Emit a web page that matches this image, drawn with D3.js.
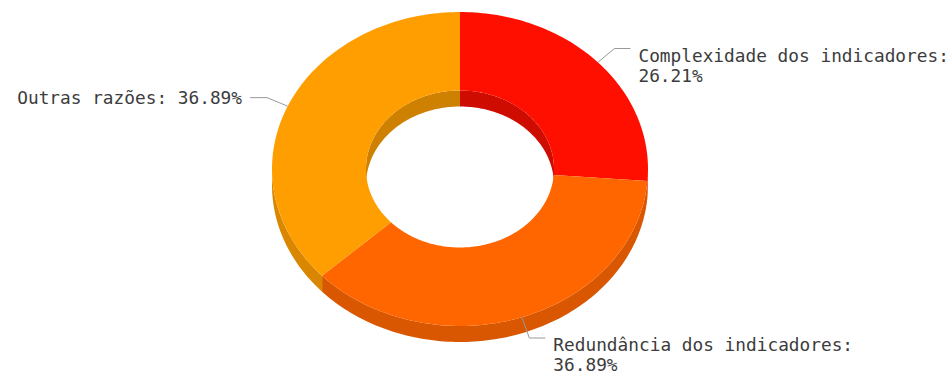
<!DOCTYPE html>
<html>
<head>
<meta charset="utf-8">
<script src="https://cdn.jsdelivr.net/npm/d3@7"></script>
<style>
  body { margin: 0; background: #fff; }
  svg { display: block; }
</style>
</head>
<body>
<div id="chart-container"></div>
<script>
// data
const categories = ['Complexidade dos indicadores', 'Redundância dos indicadores', 'Outras razões']
const values = [26.21, 36.89, 36.89]
const colors = ['#FF0F00', '#FF6600', '#FF9E01']

// constants
const width = 952
const height = 374
const cx = 460
const cy = 169
const outerR = 188
const innerR = 94
const tilt = 0.835
const depth = 16

const svg = d3.select('#chart-container')
  .append('svg')
  .attr('width', width)
  .attr('height', height)

const pie = d3.pie().sort(null).value(d => d)
const arcs = pie(values)

// point on the tilted ellipse, angle clockwise from 12 o'clock
function pt (r, a, dy = 0) {
  return [cx + r * Math.sin(a), cy - r * tilt * Math.cos(a) + dy]
}
function arcPts (r, a0, a1, dy = 0) {
  const n = Math.max(2, Math.ceil(Math.abs(a1 - a0) / 0.02))
  return d3.range(n + 1).map(i => pt(r, a0 + (a1 - a0) * i / n, dy))
}
const line = d3.line()
const shape = pts => line(pts) + 'Z'

function clip (a0, a1, b0, b1) {
  const s0 = Math.max(a0, b0)
  const s1 = Math.min(a1, b1)
  return s1 > s0 ? [s0, s1] : null
}

// 1. outer side walls (front half)
const sides = svg.append('g')
arcs.forEach((d, i) => {
  const c = clip(d.startAngle, d.endAngle, Math.PI / 2, Math.PI * 1.5)
  if (!c) return
  sides.append('path')
    .attr('d', shape(arcPts(outerR, c[0], c[1]).concat(arcPts(outerR, c[1], c[0], depth))))
    .attr('fill', d3.color(colors[i]).darker(0.45))
})

// 2. inner walls (back half, seen through the hole)
const inner = svg.append('g')
arcs.forEach((d, i) => {
  [[0, Math.PI / 2], [Math.PI * 1.5, Math.PI * 2]].forEach(r => {
    const c = clip(d.startAngle, d.endAngle, r[0], r[1])
    if (!c) return
    inner.append('path')
      .attr('d', shape(arcPts(innerR, c[0], c[1]).concat(arcPts(innerR, c[1], c[0], depth))))
      .attr('fill', d3.color(colors[i]).darker(0.6))
  })
})

// 3. top faces
svg.append('g')
  .selectAll('path')
  .data(arcs).enter()
  .append('path')
  .attr('d', d => shape(arcPts(outerR, d.startAngle, d.endAngle).concat(arcPts(innerR, d.endAngle, d.startAngle))))
  .attr('fill', (d, i) => colors[i])

// 4. labels
const labels = svg.append('g')
  .attr('font-family', '"DejaVu Sans Mono", "Liberation Mono", monospace')
  .attr('font-size', '17.8px')
  .attr('fill', '#3c3c3c')

arcs.forEach((d, i) => {
  const mid = (d.startAngle + d.endAngle) / 2
  const start = pt(outerR, mid)
  const front = Math.cos(mid) < -0.5
  const elbow = pt(outerR * 1.12, mid, front ? 3 : -1)
  const right = elbow[0] > cx
  const end = [elbow[0] + (right ? 16 : -17), elbow[1]]
  labels.append('polyline')
    .attr('points', [start, elbow, end].map(p => p.join(',')).join(' '))
    .attr('fill', 'none')
    .attr('stroke', '#999')
    .attr('stroke-width', 1)
  const pct = d3.format('.2f')(values[i]) + '%'
  const lines = right ? [categories[i] + ':', pct] : [categories[i] + ': ' + pct]
  const text = labels.append('text')
    .attr('text-anchor', right ? 'start' : 'end')
  lines.forEach((t, j) => {
    text.append('tspan')
      .attr('x', end[0] + (right ? 8 : -8))
      .attr('y', elbow[1] + (lines.length > 1 ? 13 : 6) + j * 20)
      .text(t)
  })
})
</script>
</body>
</html>
